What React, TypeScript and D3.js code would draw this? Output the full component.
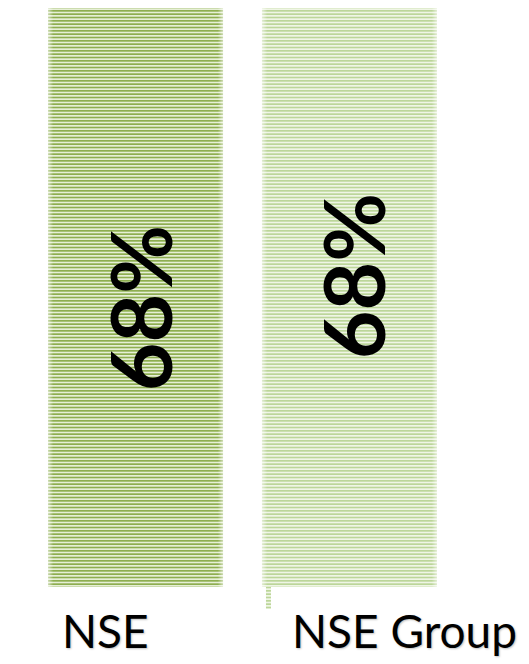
import { useRef, useEffect } from 'react'
import * as d3 from 'd3'

const categories = ['NSE', 'NSE Group']
const values = [68, 68]
const valueLabels = ['68%', '68%']
const stripeDark = ['#8eae50', '#bcd699']
const stripeLight = ['#e6efd6', '#eff5e5']

export default function App() {
  const svgRef = useRef<SVGSVGElement>(null)

  useEffect(() => {
    document.body.style.margin = '0'
    if (!svgRef.current) return
    const width = 529
    const height = 664
    const svg = d3.select(svgRef.current)
    svg.selectAll('*').remove()
    svg.attr('width', width).attr('height', height)

    const defs = svg.append('defs')

    // Striped fill per bar
    const period = 10 / 3
    categories.forEach((_, i) => {
      const p = defs.append('pattern')
        .attr('id', `stripe${i}`)
        .attr('patternUnits', 'userSpaceOnUse')
        .attr('width', 10)
        .attr('height', period)
      p.append('rect').attr('width', 10).attr('height', period).attr('fill', stripeLight[i])
      p.append('rect').attr('width', 10).attr('height', 2).attr('fill', stripeDark[i])
        .attr('shape-rendering', 'crispEdges')
    })

    // soft fade at the bar edges
    const fade = defs.append('linearGradient').attr('id', 'edgeFade')
    fade.append('stop').attr('offset', '0%').attr('stop-color', '#fff').attr('stop-opacity', 0.55)
    fade.append('stop').attr('offset', '3%').attr('stop-color', '#fff').attr('stop-opacity', 0)
    fade.append('stop').attr('offset', '97%').attr('stop-color', '#fff').attr('stop-opacity', 0)
    fade.append('stop').attr('offset', '100%').attr('stop-color', '#fff').attr('stop-opacity', 0.55)

    const x = d3.scaleBand<string>()
      .domain(categories)
      .range([48, 437])
      .paddingInner(0.182)
      .paddingOuter(0)

    const y = d3.scaleLinear().domain([0, 68]).range([587, 8])

    const bars = svg.selectAll('.bar')
      .data(categories)
      .join('g')
      .attr('class', 'bar')

    bars.append('rect')
      .attr('x', (d) => x(d)!)
      .attr('y', (_, i) => y(values[i]))
      .attr('width', x.bandwidth())
      .attr('height', (_, i) => y(0) - y(values[i]))
      .attr('fill', (_, i) => `url(#stripe${i})`)

    bars.append('rect')
      .attr('x', (d) => x(d)!)
      .attr('y', (_, i) => y(values[i]))
      .attr('width', x.bandwidth())
      .attr('height', (_, i) => y(0) - y(values[i]))
      .attr('fill', 'url(#edgeFade)')

    // little striped stub under the second bar
    svg.append('rect')
      .attr('x', x(categories[1])! + 4)
      .attr('y', y(0))
      .attr('width', 5)
      .attr('height', 22)
      .attr('fill', 'url(#stripe1)')

    // rotated value labels
    const labelY = [308, 276]
    const labelDx = [4, 3]
    svg.selectAll('.val')
      .data(valueLabels)
      .join('text')
      .attr('class', 'val')
      .attr('transform', (_, i) => `translate(${x(categories[i])! + x.bandwidth() / 2 + labelDx[i]},${labelY[i]}) rotate(-90)`)
      .attr('text-anchor', 'middle')
      .attr('dominant-baseline', 'central')
      .attr('font-family', 'Lato, "Open Sans", sans-serif')
      .attr('font-weight', 'bold')
      .attr('font-size', 84)
      .attr('fill', '#000')
      .text((d) => d)

    // category labels
    const catX = [62, 292]
    svg.selectAll('.cat')
      .data(categories)
      .join('text')
      .attr('class', 'cat')
      .attr('x', (_, i) => catX[i])
      .attr('y', 648)
      .attr('font-family', 'Lato, "Open Sans", sans-serif')
      .attr('font-size', 46)
      .attr('fill', '#000')
      .style('text-shadow', '1px 1px 2px rgba(0,0,0,0.25)')
      .text((d) => d)
  }, [])

  return (
    <div>
      <svg ref={svgRef} style={{ display: 'block' }} />
    </div>
  )
}
